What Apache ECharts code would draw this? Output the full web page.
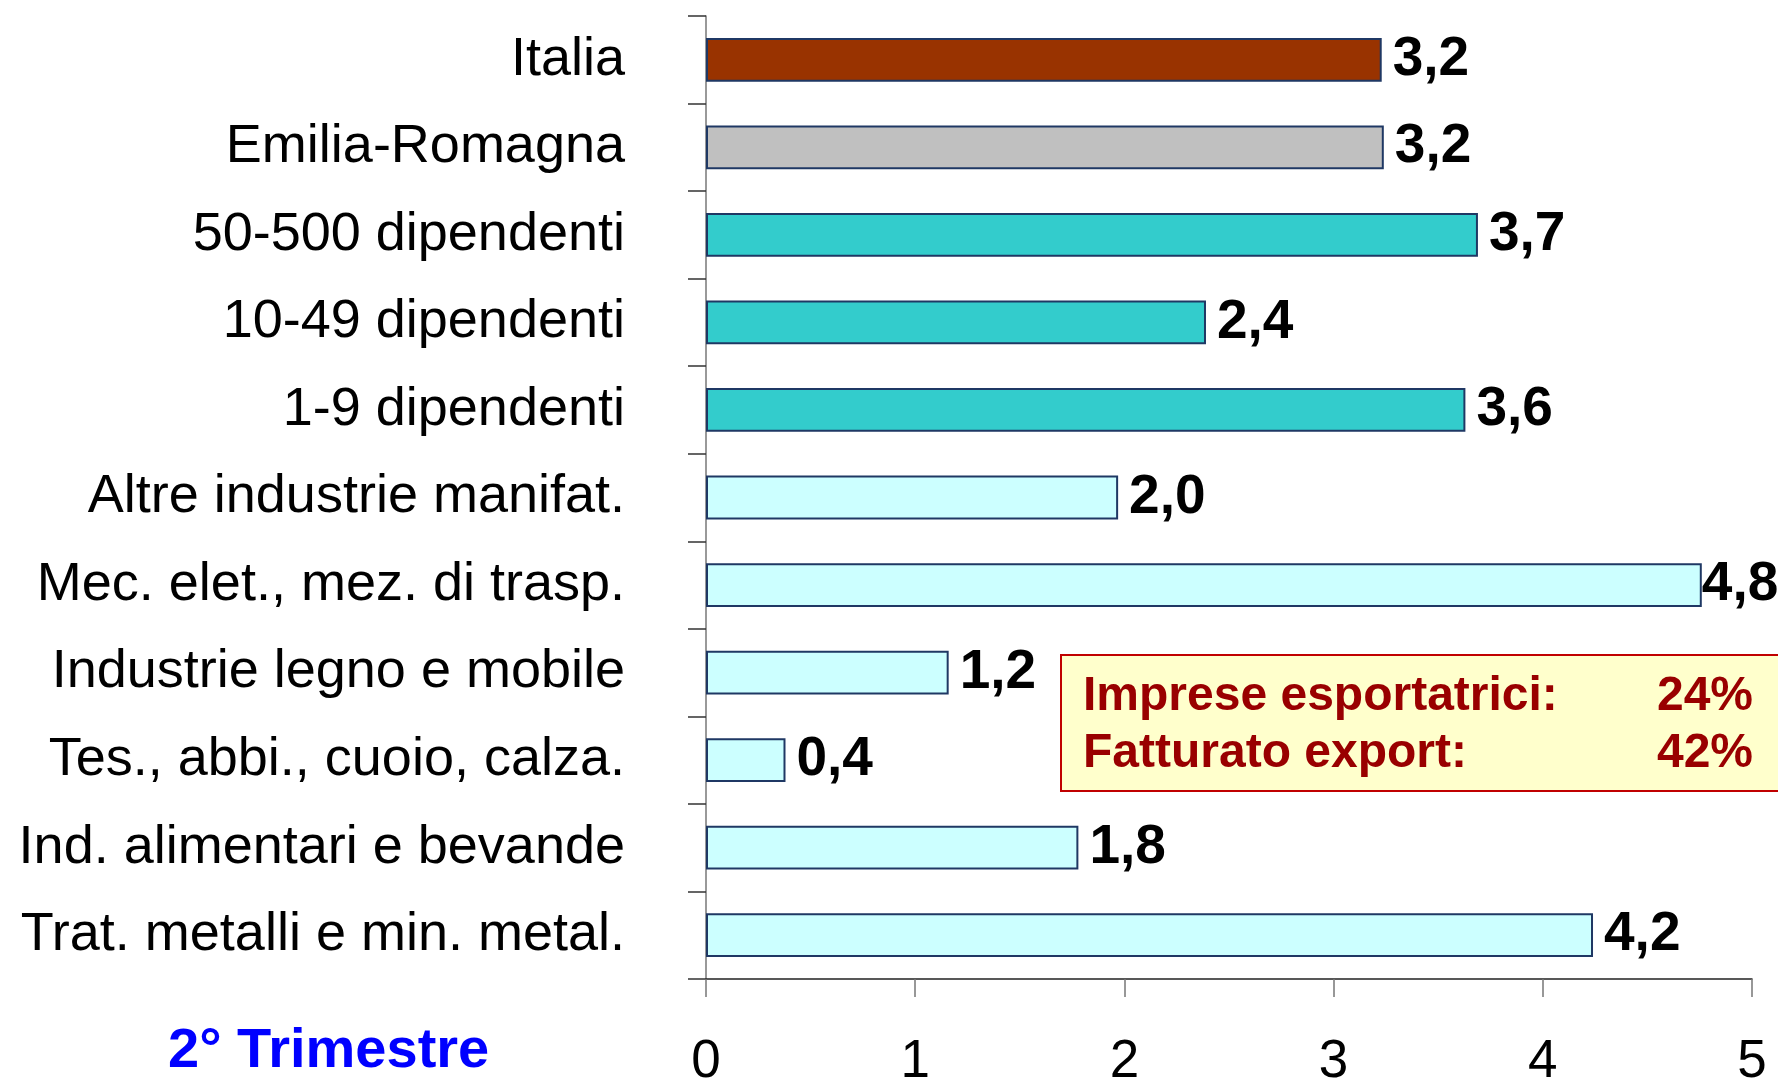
<!DOCTYPE html>
<html>
<head>
<meta charset="utf-8">
<script src="https://cdn.jsdelivr.net/npm/echarts@6/dist/echarts.min.js"></script>
<style>
  html, body { margin: 0; padding: 0; background: #fff; }
  #chart { width: 1778px; height: 1082px; }
</style>
</head>
<body>
<div id="chart"></div>
<script>
// categorie, dall'alto in basso
var categories = [
    'Italia',
    'Emilia-Romagna',
    '50-500 dipendenti',
    '10-49 dipendenti',
    '1-9 dipendenti',
    'Altre industrie manifat.',
    'Mec. elet., mez. di trasp.',
    'Industrie legno e mobile',
    'Tes., abbi., cuoio, calza.',
    'Ind. alimentari e bevande',
    'Trat. metalli e min. metal.'
];
var values = [3.23, 3.24, 3.69, 2.39, 3.63, 1.97, 4.76, 1.16, 0.38, 1.78, 4.24];
var barColors = ['#993300', '#C0C0C0', '#33CCCC', '#33CCCC', '#33CCCC',
    '#CCFFFF', '#CCFFFF', '#CCFFFF', '#CCFFFF', '#CCFFFF', '#CCFFFF'];
var xTicks = [0, 1, 2, 3, 4, 5];
var periodo = '2° Trimestre';
var boxLabels = ['Imprese esportatrici:', 'Fatturato export:'];
var boxValues = ['24%', '42%'];

var chart = echarts.init(document.getElementById('chart'));

var data = [];
for (var i = 0; i < values.length; i++) {
    var item = {
        value: values[i],
        itemStyle: {color: barColors[i]}
    };
    // l'ultima etichetta va a filo col bordo
    if (values[i] > 4.5) {
        item.label = {distance: 0};
    }
    data.push(item);
}

var font = '"Liberation Sans", Arial, sans-serif';

var option = {
    backgroundColor: '#fff',
    animation: false,
    grid: {left: 706, right: 26, top: 16, bottom: 103, outerBoundsMode: 'none', containLabel: false},
    xAxis: {
        type: 'value',
        min: xTicks[0],
        max: xTicks[xTicks.length - 1],
        interval: 1,
        splitLine: {show: false},
        axisLine: {show: true, lineStyle: {color: '#222', width: 1.5}},
        axisTick: {show: true, length: 18, lineStyle: {color: '#777', width: 1.5}},
        axisLabel: {
            margin: 57,
            fontSize: 53,
            color: '#000',
            fontFamily: font
        }
    },
    yAxis: {
        type: 'category',
        inverse: true,
        data: categories,
        axisLine: {show: true, lineStyle: {color: '#777', width: 1.5}},
        axisTick: {show: true, length: 18, lineStyle: {color: '#333', width: 1.5}},
        axisLabel: {
            margin: 81,
            fontSize: 54,
            color: '#000',
            fontFamily: font
        }
    },
    series: [{
        type: 'bar',
        data: data,
        barCategoryGap: '50%',
        itemStyle: {borderColor: '#1F3864', borderWidth: 2},
        label: {
            show: true,
            position: 'right',
            distance: 11,
            fontSize: 55,
            fontWeight: 'bold',
            color: '#000',
            fontFamily: font,
            formatter: function (p) {
                return p.value.toFixed(1).replace('.', ',');
            }
        }
    }],
    graphic: [
        {
            type: 'text',
            left: 168,
            top: 1024,
            style: {
                text: periodo,
                fill: '#0000FF',
                font: 'bold 56px ' + font
            }
        },
        {
            type: 'rect',
            left: 1060,
            top: 654,
            shape: {width: 740, height: 136},
            style: {fill: '#FFFFCC', stroke: '#C00000', lineWidth: 2}
        },
        {
            type: 'text',
            left: 1083,
            top: 673,
            style: {text: boxLabels[0], fill: '#990000', font: 'bold 48px ' + font}
        },
        {
            type: 'text',
            left: 1083,
            top: 730,
            style: {text: boxLabels[1], fill: '#990000', font: 'bold 48px ' + font}
        },
        {
            type: 'text',
            right: 25,
            top: 673,
            style: {text: boxValues[0], fill: '#990000', font: 'bold 48px ' + font}
        },
        {
            type: 'text',
            right: 25,
            top: 730,
            style: {text: boxValues[1], fill: '#990000', font: 'bold 48px ' + font}
        }
    ]
};

chart.setOption(option);
</script>
</body>
</html>
